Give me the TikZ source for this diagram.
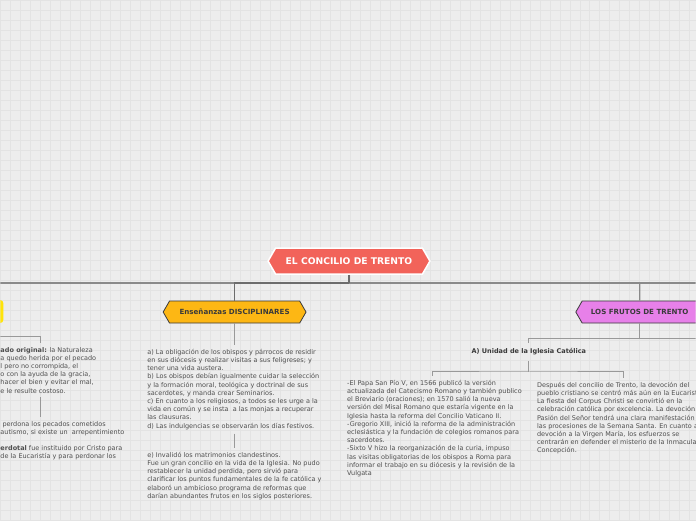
\documentclass[tikz,border=0pt]{standalone}
\usepackage{fontspec}
\setmainfont{DejaVu Sans}
\usetikzlibrary{shapes.symbols}
\definecolor{fondo}{HTML}{EDEDED}
\definecolor{rejilla}{HTML}{E3E3E3}
\definecolor{rojo}{HTML}{F2635A}
\definecolor{naranja}{HTML}{FDB714}
\definecolor{violeta}{HTML}{E780E9}
\definecolor{amarillo}{HTML}{FFE40A}
\definecolor{tinta}{HTML}{3A3A3A}
\definecolor{cuerpo}{HTML}{4F4F4F}
\definecolor{linea}{HTML}{999999}
\definecolor{troncal}{HTML}{8A8A8A}
\begin{document}
\begin{tikzpicture}[x=1pt, y=-1pt,
  tema/.style={signal, signal to=west and east, signal pointer angle=120, draw=tinta, line width=0.8pt, minimum height=22pt, inner sep=0pt, text=tinta, font=\fontsize{7.1}{8}\selectfont\bfseries},
  texto/.style={anchor=north west, align=left, inner xsep=0pt, inner ysep=4pt, text=cuerpo, font=\fontsize{6.5}{8.2}\selectfont},
  rama/.style={draw=linea, line width=1pt},
  tronco/.style={draw=troncal, line width=1.3pt}]
\fill[fondo] (0,0) rectangle (696,520);
\draw[rejilla, line width=0.6pt, step=10pt] (0,0) grid (696,520);
\useasboundingbox (0,0) rectangle (696,520);
\clip (0,0) rectangle (696,520);
% nodos principales
\node[tema, fill=rojo, draw=white, line width=1.5pt, minimum width=162pt, minimum height=26pt, text=white, font=\fontsize{9.2}{10}\selectfont\bfseries] (root) at (349,261) {EL CONCILIO DE TRENTO};
\node[tema, fill=naranja, minimum width=143pt] (ens) at (234.5,312) {Enseñanzas DISCIPLINARES};
\node[tema, fill=violeta, minimum width=128pt] (fru) at (640,312) {LOS FRUTOS DE TRENTO};
\node[rounded corners=3pt, fill=amarillo, minimum width=90pt, minimum height=23pt] (ama) at (-42,311.5) {};
\coordinate (tl) at (-5,283);
\coordinate (tr) at (701,283);
\coordinate (tj) at (349,283);
\draw[tronco] (tl) -- (tr);
\draw[tronco, draw=gray!85!black] (root) -- (tj);
\draw[tronco, draw=gray!85!black] (ens) |- (tj);
\draw[tronco] (fru) -- (fru |- tj);
% rama izquierda
\node[texto] (izq1) at (0,343) {\textbf{ado original:} la Naturaleza\\a quedo herida por el pecado\\l pero no corrompida, el\\o con la ayuda de la gracia,\\hacer el bien y evitar el mal,\\e le resulte costoso.};
\node[texto] (izq2) at (0,417) {\ perdona los pecados cometidos\\autismo, si existe un \ arrepentimiento\\[8.2pt]\textbf{erdotal} fue instituido por Cristo para\\de la Eucaristía y para perdonar los};
\coordinate (lj) at (-5,336);
\coordinate (lx) at (40,0);
\draw[rama] (lj) -| (izq1.north -| lx);
\draw[rama] (izq1.south -| lx) -- (izq2.north -| lx);
% rama central
\node[texto] (disA) at (147,345) {a) La obligación de los obispos y párrocos de residir\\en sus diócesis y realizar visitas a sus feligreses; y\\tener una vida austera.\\b) Los obispos debían igualmente cuidar la selección\\y la formación moral, teológica y doctrinal de sus\\sacerdotes, y manda crear Seminarios.\\c) En cuanto a los religiosos, a todos se les urge a la\\vida en común y se insta \ a las monjas a recuperar\\las clausuras.\\d) Las indulgencias se observarán los días festivos.};
\node[texto] (disE) at (147,448) {e) Invalidó los matrimonios clandestinos.\\Fue un gran concilio en la vida de la Iglesia. No pudo\\restablecer la unidad perdida, pero sirvió para\\clarificar los puntos fundamentales de la fe católica y\\elaboró un ambicioso programa de reformas que\\darían abundantes frutos en los siglos posteriores.};
\draw[rama] (ens) -- (ens |- disA.north);
\draw[rama] (disA.south -| ens) -- (disE.north -| ens);
% rama derecha
\node[text=tinta, font=\fontsize{6.5}{8}\selectfont\bfseries, minimum height=18pt, inner sep=0pt] (uni) at (529,352) {A) Unidad de la Iglesia Católica};
\node[texto] (fruA) at (347,376) {-El Papa San Pío V, en 1566 publicó la versión\\actualizada del Catecismo Romano y también publico\\el Breviario (oraciones); en 1570 salió la nueva\\versión del Misal Romano que estaría vigente en la\\Iglesia hasta la reforma del Concilio Vaticano II.\\-Gregorio XIII, inició la reforma de la administración\\eclesiástica y la fundación de colegios romanos para\\sacerdotes.\\-Sixto V hizo la reorganización de la curia, impuso\\las visitas obligatorias de los obispos a Roma para\\informar el trabajo en su diócesis y la revisión de la\\Vulgata};
\node[texto] (fruB) at (537,378) {Después del concilio de Trento, la devoción del\\pueblo cristiano se centró más aún en la Eucaristía.\\La fiesta del Corpus Christi se convirtió en la\\celebración católica por excelencia. La devoción a la\\Pasión del Señor tendrá una clara manifestación en\\las procesiones de la Semana Santa. En cuanto a la\\devoción a la Virgen María, los esfuerzos se\\centrarán en defender el misterio de la Inmaculada\\Concepción.};
\coordinate (rj) at (701,338);
\coordinate (bj) at (529,372);
\coordinate (ax) at (433,0);
\coordinate (bx) at (624,0);
\draw[rama] (fru) |- (uni.north |- rj) -- (uni.north);
\draw[rama] (uni.north |- rj) -- (rj);
\draw[rama] (uni) -- (bj);
\draw[rama] (fruA.north -| ax) |- (bj) -| (fruB.north -| bx);
\end{tikzpicture}
\end{document}
